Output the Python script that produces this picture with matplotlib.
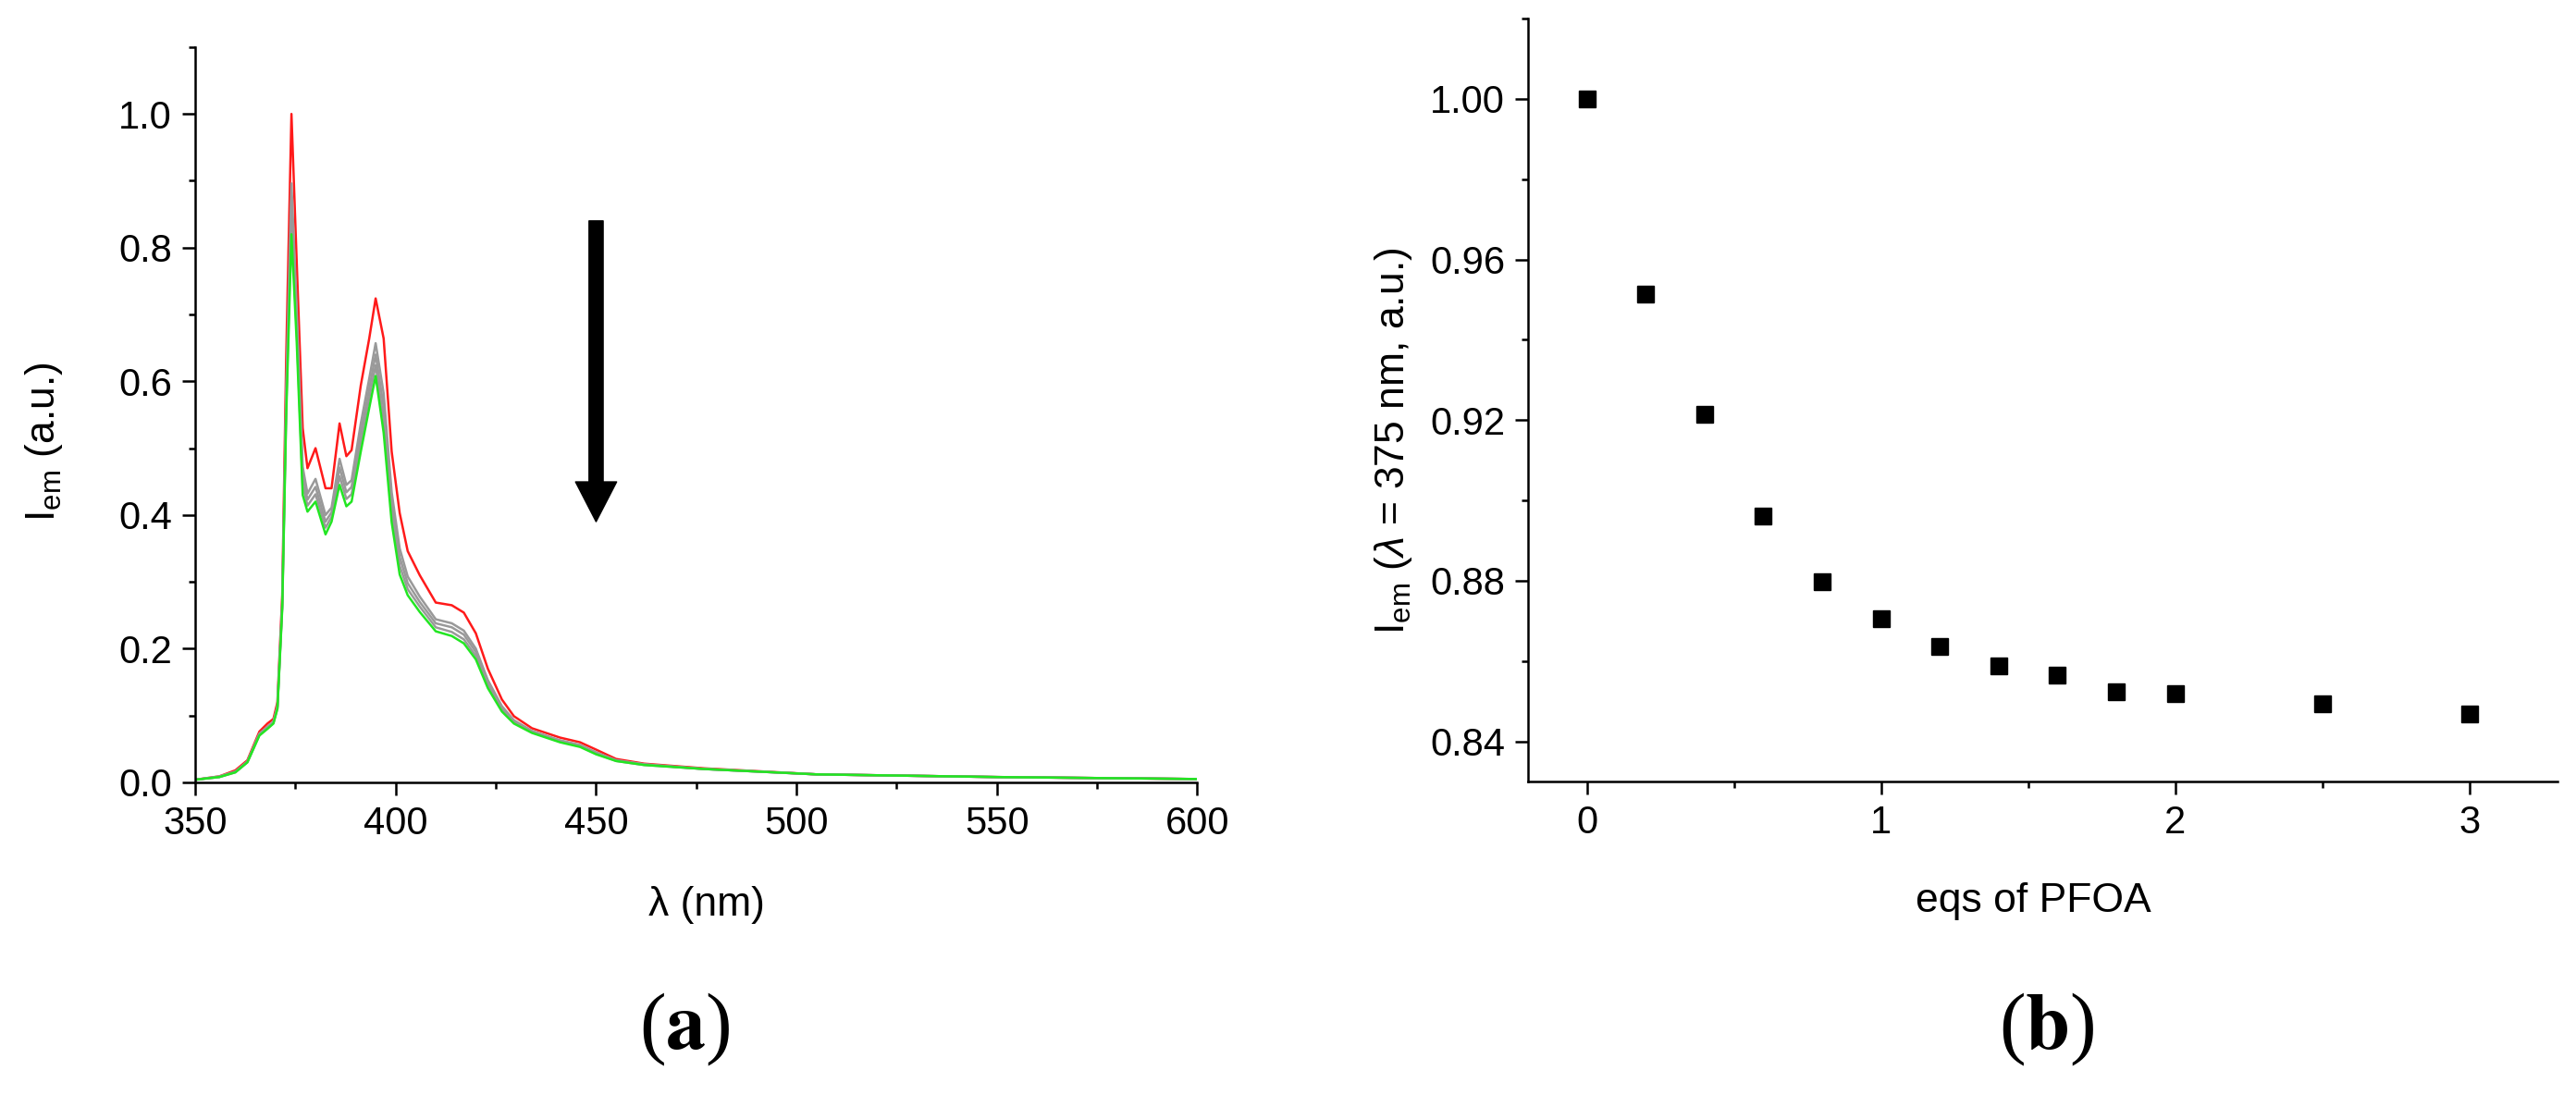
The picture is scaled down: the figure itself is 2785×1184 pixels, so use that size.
import matplotlib
matplotlib.use("Agg")
import matplotlib.pyplot as plt
from matplotlib.ticker import MultipleLocator, FormatStrFormatter

plt.rcParams['font.family'] = ['Liberation Sans', 'DejaVu Sans']
plt.rcParams['mathtext.fontset'] = 'custom'
plt.rcParams['mathtext.rm'] = 'Liberation Sans'
plt.rcParams['mathtext.it'] = 'Liberation Sans:italic'

# --- (a) emission spectra during titration ---
wavelength = [350, 356, 360, 363, 366, 368, 369.5, 370.5, 371.7, 372.7,
              374, 375.3, 376.8, 378, 380, 382.5, 384, 386, 387.7, 389,
              391.3, 393.4, 395, 397, 399, 401, 403, 406, 410, 414,
              417, 420, 423, 426.5, 429.5, 434, 441, 446, 450, 455,
              462, 477, 505, 550, 600]

spec_start = [0.004, 0.009, 0.018, 0.033, 0.076, 0.088, 0.095, 0.12, 0.28, 0.64,
              1.0, 0.78, 0.53, 0.47, 0.50, 0.44, 0.44, 0.537, 0.488, 0.497,
              0.594, 0.664, 0.724, 0.664, 0.495, 0.403, 0.346, 0.31, 0.269, 0.265,
              0.254, 0.223, 0.17, 0.124, 0.099, 0.081, 0.067, 0.06, 0.049, 0.035,
              0.028, 0.021, 0.012, 0.008, 0.005]

spec_mid1 = [0.004, 0.009, 0.016, 0.031, 0.073, 0.083, 0.091, 0.114, 0.268, 0.588,
             0.896, 0.710, 0.472, 0.432, 0.454, 0.400, 0.411, 0.484, 0.445, 0.452,
             0.537, 0.604, 0.657, 0.582, 0.434, 0.350, 0.308, 0.278, 0.244, 0.238,
             0.227, 0.200, 0.153, 0.114, 0.093, 0.077, 0.063, 0.056, 0.045, 0.033,
             0.027, 0.020, 0.012, 0.008, 0.005]

spec_mid2 = [0.004, 0.008, 0.016, 0.031, 0.072, 0.082, 0.090, 0.113, 0.266, 0.575,
             0.870, 0.694, 0.458, 0.423, 0.442, 0.390, 0.404, 0.471, 0.434, 0.442,
             0.523, 0.589, 0.640, 0.562, 0.419, 0.337, 0.298, 0.270, 0.238, 0.232,
             0.221, 0.195, 0.149, 0.111, 0.091, 0.076, 0.062, 0.055, 0.044, 0.033,
             0.027, 0.020, 0.012, 0.008, 0.005]

spec_mid3 = [0.004, 0.008, 0.015, 0.030, 0.071, 0.081, 0.089, 0.111, 0.263, 0.563,
             0.845, 0.677, 0.444, 0.414, 0.431, 0.381, 0.397, 0.458, 0.424, 0.431,
             0.509, 0.575, 0.624, 0.543, 0.404, 0.324, 0.289, 0.263, 0.232, 0.225,
             0.214, 0.189, 0.145, 0.109, 0.090, 0.075, 0.061, 0.054, 0.043, 0.032,
             0.026, 0.020, 0.012, 0.008, 0.005]

spec_end = [0.004, 0.008, 0.015, 0.030, 0.070, 0.080, 0.088, 0.11, 0.26, 0.55,
            0.82, 0.66, 0.43, 0.405, 0.42, 0.371, 0.39, 0.445, 0.413, 0.42,
            0.495, 0.56, 0.608, 0.523, 0.389, 0.311, 0.28, 0.255, 0.226, 0.219,
            0.208, 0.184, 0.141, 0.106, 0.088, 0.074, 0.060, 0.053, 0.042, 0.032,
            0.026, 0.020, 0.012, 0.008, 0.005]

# --- (b) intensity at 375 nm vs equivalents ---
eqs = [0, 0.2, 0.4, 0.6, 0.8, 1.0, 1.2, 1.4, 1.6, 1.8, 2.0, 2.5, 3.0]
i375 = [1.000, 0.9513, 0.9215, 0.8961, 0.8797, 0.8706, 0.8636, 0.8588,
        0.8564, 0.8524, 0.8519, 0.8493, 0.8468]

fig = plt.figure(figsize=(27.85, 11.84), dpi=100)
ax1 = fig.add_axes([0.0758, 0.2855, 0.389, 0.6715])
ax2 = fig.add_axes([0.5932, 0.2863, 0.3996, 0.6968])

lw = 1.8
ax1.plot(wavelength, spec_start, color='#ff1a1a', lw=lw)
for s in (spec_mid1, spec_mid2, spec_mid3):
    ax1.plot(wavelength, s, color='#999999', lw=lw)
ax1.plot(wavelength, spec_end, color='#22e622', lw=lw)

ax1.annotate('', xy=(450, 0.39), xytext=(450, 0.84),
             arrowprops=dict(facecolor='black', edgecolor='black',
                             width=11, headwidth=32, headlength=31))

ax1.set_xlim(350, 600)
ax1.set_ylim(0, 1.1)
ax1.xaxis.set_major_locator(MultipleLocator(50))
ax1.xaxis.set_minor_locator(MultipleLocator(25))
ax1.yaxis.set_major_locator(MultipleLocator(0.2))
ax1.yaxis.set_minor_locator(MultipleLocator(0.1))
ax1.yaxis.set_major_formatter(FormatStrFormatter('%.1f'))
ax1.set_xlabel('λ (nm)', fontsize=32)
ax1.set_ylabel(r'I$_\mathrm{em}$ (a.u.)', fontsize=32)
ax1.xaxis.set_label_coords(0.51, -0.141)
ax1.yaxis.set_label_coords(-0.130, 0.463)

ax2.plot(eqs, i375, 's', color='black', markersize=13)
ax2.set_xlim(-0.2, 3.3)
ax2.set_ylim(0.83, 1.02)
ax2.xaxis.set_major_locator(MultipleLocator(1))
ax2.xaxis.set_minor_locator(MultipleLocator(0.5))
ax2.yaxis.set_major_locator(MultipleLocator(0.04))
ax2.yaxis.set_minor_locator(MultipleLocator(0.02))
ax2.yaxis.set_major_formatter(FormatStrFormatter('%.2f'))
ax2.set_xlabel('eqs of PFOA', fontsize=32)
ax2.set_ylabel(r'I$_\mathrm{em}$ ($\it{λ}$ = 375 nm, a.u.)', fontsize=32)
ax2.xaxis.set_label_coords(0.491, -0.132)
ax2.yaxis.set_label_coords(-0.111, 0.446)

for ax in (ax1, ax2):
    for side in ('top', 'right'):
        ax.spines[side].set_visible(False)
    for side in ('left', 'bottom'):
        ax.spines[side].set_linewidth(1.8)
    ax.tick_params(which='major', direction='out', length=10, width=1.8,
                   labelsize=30, pad=8)
    ax.tick_params(which='minor', direction='out', length=5, width=1.8)

fig.text(740 / 2785, 1 - 1113 / 1184, r'($\mathbf{a}$)', fontsize=62,
         family='Liberation Serif', math_fontfamily='stix',
         ha='center', va='center')
fig.text(2213 / 2785, 1 - 1113 / 1184, r'($\mathbf{b}$)', fontsize=62,
         family='Liberation Serif', math_fontfamily='stix',
         ha='center', va='center')

fig.savefig('out.png', dpi=100)
